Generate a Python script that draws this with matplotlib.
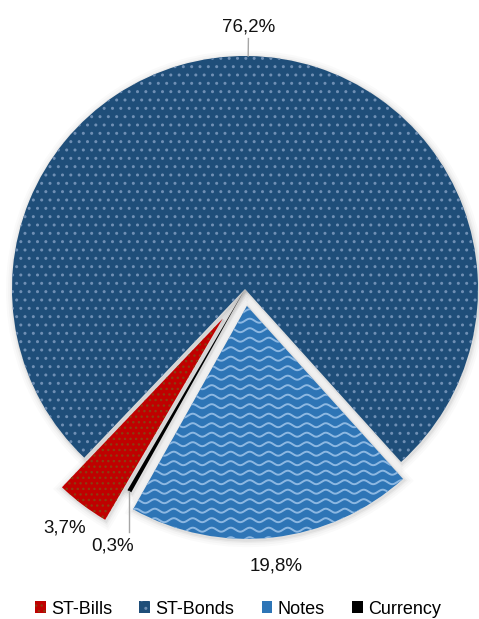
import numpy as np
import matplotlib
matplotlib.use("Agg")
import matplotlib.pyplot as plt
from matplotlib.patches import Wedge, Patch

# data
categories = ['ST-Bills', 'ST-Bonds', 'Notes', 'Currency']
shares = [3.7, 76.2, 19.8, 0.3]

# styles
face_colors = ['#C00000', '#1F4E79', '#2E75B6', '#000000']
hatch_colors = ['#8E3A10', '#6F8FB4', '#2E75B6', '#000000']
hatches = ['...', '..', '', '']
explode = [0.159, 0.0, 0.073, 0.0]

plt.rcParams['font.family'] = ['Liberation Sans', 'DejaVu Sans']
plt.rcParams['hatch.linewidth'] = 1.0

fig = plt.figure(figsize=(4.79, 6.19), dpi=100)
ax = fig.add_axes([0, 0, 1, 1])

wedges, _ = ax.pie(shares, explode=explode, colors=face_colors, startangle=239.7,
                   counterclock=False, radius=1.0, center=(0, 0),
                   wedgeprops=dict(linewidth=0))

for w, h, hc in zip(wedges, hatches, hatch_colors):
    w.set_hatch(h)
    w.set_edgecolor(hc)
    w.set_linewidth(0)
    w.set_zorder(2)
    # soft shadow round each slice
    for lw, a in [(10, 0.018), (7, 0.025), (4, 0.035), (2, 0.05)]:
        s = Wedge((w.center[0] + 0.004, w.center[1] - 0.006), w.r, w.theta1, w.theta2,
                  facecolor='none', edgecolor='black', linewidth=lw, alpha=a, zorder=1)
        ax.add_patch(s)

# wavy texture on the Notes slice
notes = wedges[2]
xs = np.linspace(-0.6, 1.0, 800)
period = 19 / 233
amp = 2.0 / 233
for y0 in np.arange(-1.4, 0.1, 9.5 / 233):
    ln, = ax.plot(xs, y0 + amp * np.sin(2 * np.pi * xs / period), color='#8DB8E2',
                  lw=1.4, zorder=3)
    ln.set_clip_path(notes)

# data labels
texts = [f"{v:.1f}".replace('.', ',') + '%' for v in shares]
lead_col = '#A6A6A6'
for i, (w, t) in enumerate(zip(wedges, texts)):
    mid = np.deg2rad((w.theta1 + w.theta2) / 2)
    cx, cy = w.center
    ox, oy = cx + np.cos(mid), cy + np.sin(mid)
    if categories[i] == 'Currency':
        ax.plot([ox, ox], [oy, oy - 0.175], color=lead_col, lw=1, zorder=4)
        ax.text(ox - 0.073, oy - 0.236, t, ha='center', va='center', fontsize=13.5,
                color='#111111')
        continue
    d = 1.125
    if categories[i] == 'ST-Bonds':
        ax.plot([ox, cx + 1.075 * np.cos(mid)], [oy, cy + 1.075 * np.sin(mid)],
                color=lead_col, lw=1, zorder=4)
    ax.text(cx + d * np.cos(mid), cy + d * np.sin(mid), t, ha='center', va='center',
            fontsize=13.5, color='#111111')

ax.set_xlim(-245 / 233, 234 / 233)
ax.set_ylim(-330 / 233, 289 / 233)
ax.set_aspect('equal')
ax.axis('off')

handles = [Patch(facecolor=fc, edgecolor=hc, hatch=h, linewidth=0)
           for fc, hc, h in zip(face_colors, hatch_colors, hatches)]
fig.legend(handles, categories, loc='center', bbox_to_anchor=(238 / 479, 1 - 609 / 619),
           ncol=4, frameon=False, fontsize=13, handlelength=0.6, handleheight=0.6,
           handletextpad=0.3, columnspacing=1.5, borderpad=0, borderaxespad=0)

fig.savefig('out.png', dpi=100)
